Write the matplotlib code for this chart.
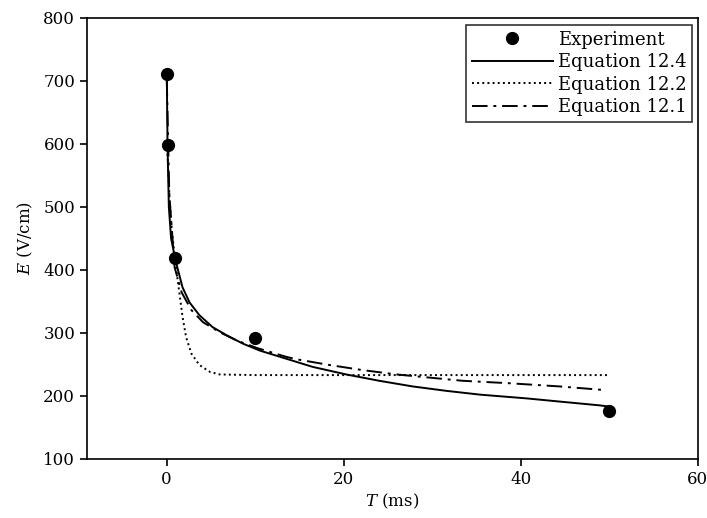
import numpy as np
import matplotlib
matplotlib.use("Agg")
import matplotlib.pyplot as plt

plt.rcParams['font.family'] = ['DejaVu Serif']
plt.rcParams['mathtext.fontset'] = 'dejavuserif'

# experimental points
exp_T = [0.02, 0.1, 1.0, 10.0, 50.0]
exp_E = [711, 598, 419, 292, 176]

# Equation 12.4 (solid)
eq124_T = [0.02, 0.1, 0.25, 0.5, 1.0, 1.8, 2.6, 3.7, 5.2, 6.8, 8.6, 10.5, 13.5,
           16.5, 20.3, 24.0, 27.8, 31.6, 35.4, 40.7, 44.4, 48.9, 50.0]
eq124_E = [710, 598, 500, 450, 415, 372, 348, 328, 309, 296, 283, 272, 259,
           246, 234, 224, 215, 208, 202, 196, 191, 185, 183]

# Equation 12.2 (dotted)
eq122_T = [0.05, 0.3, 0.6, 1.1, 1.5, 1.8, 2.2, 2.8, 3.7, 4.9, 6.0, 10.0, 20.0, 30.0, 40.0, 50.0]
eq122_E = [600, 520, 460, 399, 357, 325, 293, 267, 249, 238, 234, 233, 233, 233, 233, 233]

# Equation 12.1 (dash-dot)
eq121_T = [0.02, 0.3, 0.9, 1.7, 2.8, 4.1, 6.0, 7.9, 10.2, 13.5, 14.7, 18.4, 22.1,
           26.0, 29.7, 33.4, 38.8, 44.4, 49.7]
eq121_E = [700, 520, 404, 364, 336, 317, 301, 288, 276, 262, 258, 249, 241,
           234, 229, 224, 220, 215, 209]

fig = plt.figure(figsize=(7.07, 5.18), dpi=100)
ax = fig.add_axes([0.123, 0.114, 0.864, 0.852])

ax.plot(exp_T, exp_E, 'o', color='black', markersize=8.5, label='Experiment', zorder=5)
ax.plot(eq124_T, eq124_E, '-', color='black', lw=1.4, label='Equation 12.4')
ax.plot(eq122_T, eq122_E, ':', color='black', lw=1.4, label='Equation 12.2')
ax.plot(eq121_T, eq121_E, '-.', color='black', lw=1.4, dashes=(8, 3, 1.5, 3),
        label='Equation 12.1')

ax.set_xlim(-9, 60)
ax.set_ylim(100, 800)
ax.set_xticks([0, 20, 40, 60])
ax.set_yticks(range(100, 801, 100))
ax.tick_params(direction='out', length=5, width=1.2, labelsize=12, colors='black')
for s in ax.spines.values():
    s.set_linewidth(1.2)

ax.set_xlabel(r'$T$ (ms)', fontsize=12, labelpad=3)
ax.set_ylabel(r'$E$ (V/cm)', fontsize=12, labelpad=6)

leg = ax.legend(loc='upper right', bbox_to_anchor=(1.0, 0.995), numpoints=1,
                handlelength=4.5, fontsize=13, frameon=True, fancybox=False,
                borderpad=0.3, labelspacing=0.25, handletextpad=0.3, borderaxespad=0.3)
leg.get_frame().set_edgecolor('black')
leg.get_frame().set_linewidth(1.2)

fig.savefig('out.png', dpi=100)
